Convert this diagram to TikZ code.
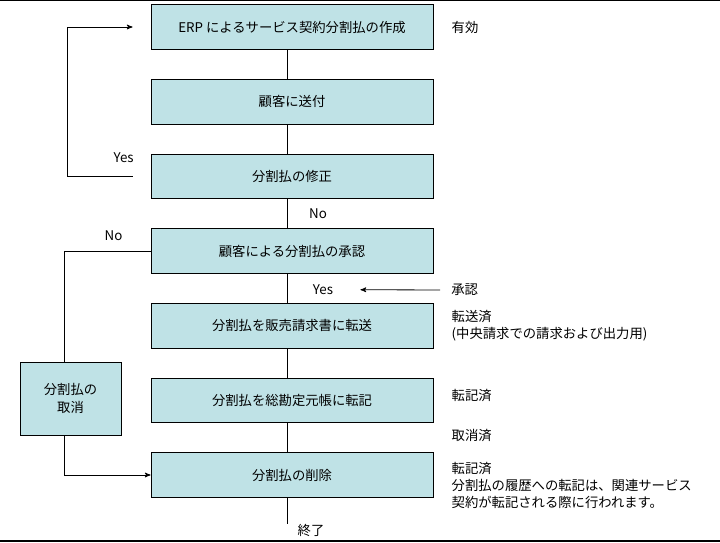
\documentclass[tikz,border=0pt]{standalone}
\usepackage{fontspec}
\setmainfont{Noto Sans CJK JP}
\usepackage{tikz}
\usetikzlibrary{ arrows, calc, positioning }
\definecolor{boxfill}{RGB}{191,226,230}
\tikzset{
>=stealth', % small filled heads
node distance=21.9pt, % gap between the steps
every node/.style={font=\fontsize{10pt}{12.75pt}\selectfont},
stepbox/.style={draw, line width=0.6pt, fill=boxfill, minimum width=211.5pt, minimum height=33.5pt, inner sep=1pt},
note/.style={anchor=west, align=left, inner sep=0pt},
lbl/.style={inner sep=0pt},
conn/.style={line width=0.6pt},
}

\begin{document}
\begin{tikzpicture}[x=0.75pt,y=-0.75pt]
  \useasboundingbox (0,0) rectangle (720,542);
  \fill (0,0) rectangle (720,1.5);
  \fill (0,540) rectangle (720,542);

  % main column
  \node[stepbox] (create) at (292,27) {ERP によるサービス契約分割払の作成};
  \node[stepbox, below=of create] (send) {顧客に送付};
  \node[stepbox, below=of send] (fix) {分割払の修正};
  \node[stepbox, below=of fix] (approve) {顧客による分割払の承認};
  \node[stepbox, below=of approve] (transfer) {分割払を販売請求書に転送};
  \node[stepbox, below=of transfer] (post) {分割払を総勘定元帳に転記};
  \node[stepbox, below=of post] (delete) {分割払の削除};
  \node[stepbox, minimum width=75.75pt, minimum height=54.75pt, align=center] (cancel) at (70.5,398.5) {分割払の\\[1pt]取消};

  % status texts
  \node[note, right=13.5pt of create] (valid) {有効};
  \node[note, right=13.5pt of transfer] (sent) {転送済\\(中央請求での請求および出力用)};
  \node[note, right=13.5pt of post, yshift=3.75pt] (posted) {転記済};
  \node[note, right=13.5pt of post, yshift=-26.25pt] (voided) {取消済};
  \node[note, right=13.5pt of delete, yshift=-7.5pt] (hist) {転記済\\分割払の履歴への転記は、関連サービス\\契約が転記される際に行われます。};
  \node[note] (agreed) at (451,290) {承認};
  \node[lbl] (fin) at (311,530) {終了};

  \foreach \a/\b in {create/send, send/fix, transfer/post, post/delete}
    \draw[conn] ([xshift=-3.75pt]\a.south) -- ([xshift=-3.75pt]\b.north);

  \draw[conn] ([xshift=-3.75pt]fix.south) -- node[lbl, xshift=23.25pt]{No} ([xshift=-3.75pt]approve.north);
  \draw[conn] ([xshift=-3.75pt]approve.south) -- node[lbl, xshift=27pt, yshift=-1pt] (yes) {Yes} ([xshift=-3.75pt]transfer.north);
  \draw[conn] ([xshift=-3.75pt]delete.south) -- ([xshift=-3.75pt]delete.south |- fin.north);

  \draw[conn, ->, shorten <=8.25pt, shorten >=20.25pt] (agreed.west) -- (yes.east);

  % loop back and cancel branch
  \draw[conn, ->, shorten <=13.5pt, shorten >=13.5pt] (fix.west) -- ++(-83,0) |- (create.west);
  \node[lbl, xshift=-20.25pt, yshift=14.25pt] at (fix.west) {Yes};
  \draw[conn] (approve.west) -| ([xshift=-4.5pt]cancel.north);
  \node[lbl, xshift=-27.75pt, yshift=11.25pt] at (approve.west) {No};
  \draw[conn, ->] ([xshift=-4.5pt]cancel.south) |- (delete.west);
\end{tikzpicture}
\end{document}
